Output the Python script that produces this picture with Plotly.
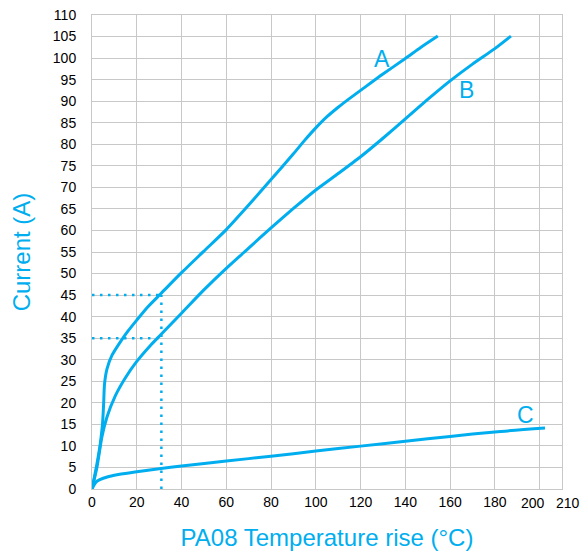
import plotly.graph_objects as go

# ---- data ----
a_x = [0, 2.2, 3.7, 4.7, 5.2, 5.6, 6.7, 8.9, 12.6, 16.3, 20, 25, 30.7, 40, 50, 60, 70, 80, 90, 95, 100, 105, 110, 115, 120, 130, 140, 147, 154.5]
a_y = [0, 5.8, 10.5, 15.1, 19.8, 24.4, 27.9, 31, 34.1, 36.8, 39.2, 42.3, 45.3, 50.2, 55.2, 60.2, 65.9, 71.8, 77.8, 80.9, 83.8, 86.4, 88.6, 90.6, 92.5, 96.3, 99.9, 102.5, 105.1]

b_x = [0, 2.2, 4.4, 6.7, 10.4, 14.8, 20, 25.9, 30.7, 40, 50, 60, 70, 80, 90, 100, 110, 120, 130, 140, 150, 160, 170, 180, 187.2]
b_y = [0, 5, 12, 16.7, 21.6, 25.7, 29.6, 33.2, 35.8, 40.8, 46.2, 51.2, 55.9, 60.6, 65.1, 69.4, 73.2, 77.1, 81.4, 85.9, 90.4, 94.7, 98.6, 102.2, 105.1]

c_x = [0, 1, 2.2, 5, 10, 20, 30, 40, 60, 80, 100, 120, 140, 160, 180, 202.4]
c_y = [0, 1, 1.8, 2.5, 3.2, 4.0, 4.7, 5.35, 6.5, 7.6, 8.8, 9.95, 11.1, 12.2, 13.25, 14.15]

ref_x = 31
ref_levels = [45, 35]

curve_names = ["A", "B", "C"]
label_x = [129.5, 167.4, 193.5]
label_y = [99.9, 92.6, 17.1]

x_ticks = [0, 20, 40, 60, 80, 100, 120, 140, 160, 180, 200, 210]
y_ticks = list(range(0, 111, 5))

BLUE = "rgb(0,174,239)"
GRID = "rgb(200,200,200)"
FONT = "Liberation Sans"

# the last two tick labels sit close together; they are drawn separately,
# nudged apart as in the reference
crowded = x_ticks[-2:]
crowded_shift = [-7, 6]
x_ticktext = [str(v) if v not in crowded else "" for v in x_ticks]

fig = go.Figure()

# dotted reference lines
for lvl in ref_levels:
    fig.add_trace(go.Scatter(x=[0, ref_x], y=[lvl, lvl], mode="lines",
                             line=dict(color=BLUE, width=2.5, dash="2.5px,5.5px"),
                             hoverinfo="skip", showlegend=False))
fig.add_trace(go.Scatter(x=[ref_x, ref_x], y=[0, max(ref_levels)], mode="lines",
                         line=dict(color=BLUE, width=2.5, dash="2.5px,5.5px"),
                         hoverinfo="skip", showlegend=False))

for name, xs, ys in zip(curve_names, [a_x, b_x, c_x], [a_y, b_y, c_y]):
    fig.add_trace(go.Scatter(x=xs, y=ys, mode="lines", name=name,
                             line=dict(color=BLUE, width=3, shape="spline", smoothing=0.6),
                             showlegend=False))

for name, lx, ly in zip(curve_names, label_x, label_y):
    fig.add_annotation(x=lx, y=ly, text=name, showarrow=False,
                       font=dict(family=FONT, size=23, color=BLUE),
                       xanchor="center", yanchor="middle")

for v, sh in zip(crowded, crowded_shift):
    fig.add_annotation(x=v, xref="x", y=0, yref="paper", text=str(v),
                       showarrow=False, xanchor="center", yanchor="top",
                       xshift=sh, yshift=-5, borderpad=0,
                       font=dict(family=FONT, size=14, color="black"))

# page body has an 8px default margin: figure is 580x544 starting at (8, 8)
fig.update_layout(
    width=580, height=544,
    margin=dict(l=84, r=26, t=7, b=63),
    paper_bgcolor="white", plot_bgcolor="white",
    font=dict(family=FONT, size=14, color="black"),
)
fig.update_xaxes(
    range=[0, 210], tickvals=x_ticks, ticktext=x_ticktext,
    showgrid=True, gridcolor=GRID, gridwidth=1,
    showline=True, linecolor=GRID, linewidth=1, mirror=True,
    zeroline=False, ticks="", ticklabelstandoff=0, tickangle=0,
    automargin=False, ticklabeloverflow="allow",
    tickfont=dict(family=FONT, size=14, color="black"),
    title=dict(text="PA08 Temperature rise (°C)", standoff=20,
               font=dict(family=FONT, size=24, color=BLUE)),
)
fig.update_yaxes(
    range=[0, 110], tickvals=y_ticks, ticktext=[str(v) for v in y_ticks],
    showgrid=True, gridcolor=GRID, gridwidth=1,
    showline=True, linecolor=GRID, linewidth=1, mirror=True,
    zeroline=False, ticks="", ticklabelstandoff=12,
    automargin=False, ticklabeloverflow="allow",
    tickfont=dict(family=FONT, size=14, color="black"),
    title=dict(text="Current (A)", standoff=16,
               font=dict(family=FONT, size=24, color=BLUE)),
)

fig.write_html("out.html")
